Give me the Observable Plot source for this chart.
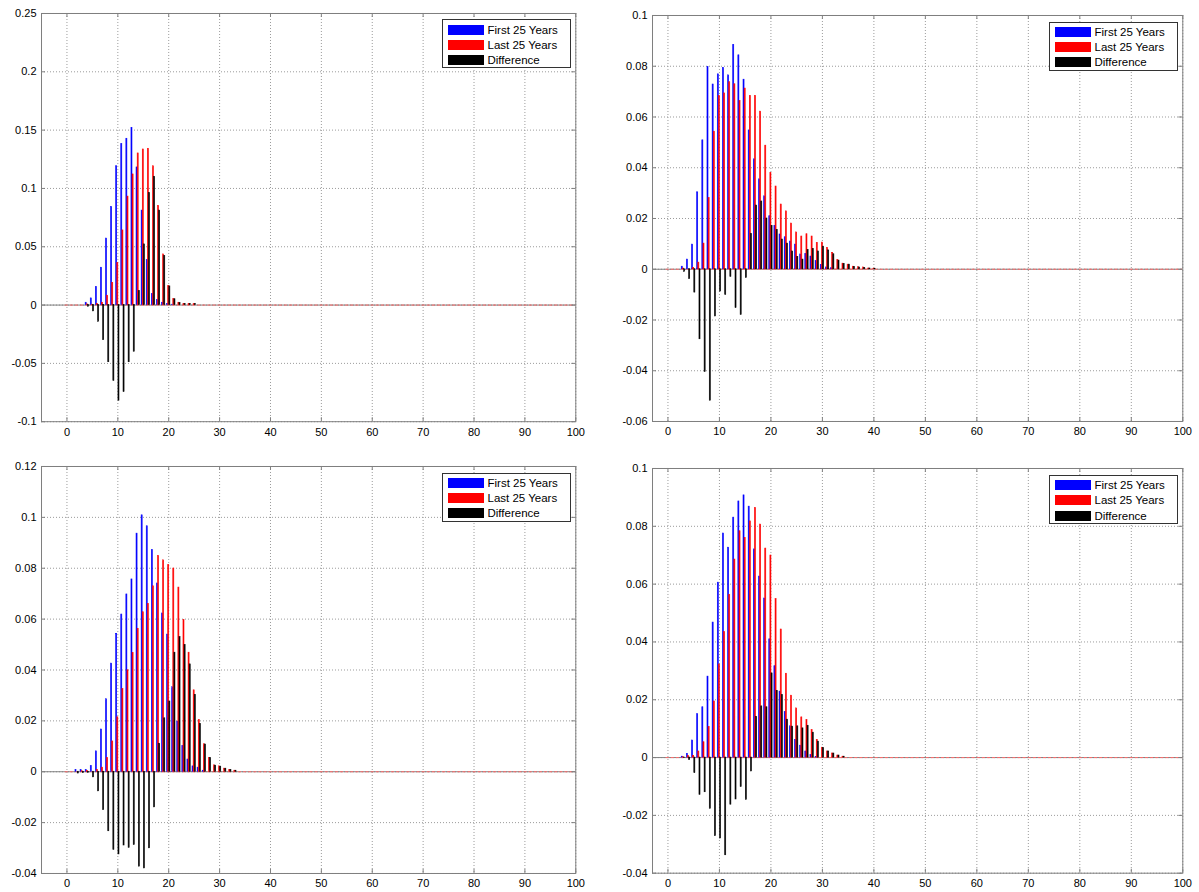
<!DOCTYPE html>
<html>
<head>
<meta charset="utf-8">
<script src="https://cdn.jsdelivr.net/npm/d3@7"></script>
<script src="https://cdn.jsdelivr.net/npm/@observablehq/plot@0.6"></script>
<style>
  html, body { margin: 0; padding: 0; background: #fff; }
  #root { position: relative; width: 1199px; height: 892px; overflow: hidden; font-family: "Liberation Sans", Arial, sans-serif; }
  .panel { position: absolute; }
  .legend { position: absolute; background: #fff; border: 1px solid #333; box-sizing: border-box; }
  .legend .row { position: absolute; left: 0; height: 12px; }
  .legend .sw { position: absolute; left: 5px; width: 36px; height: 10px; }
  .legend .lb { position: absolute; left: 45px; top: -2px; font-size: 11.5px; line-height: 14px; white-space: nowrap; color: #000; }
</style>
</head>
<body>
<div id="root"></div>
<script>
// ---------- data ----------
const seriesNames = ["First 25 Years", "Last 25 Years", "Difference"];
const seriesColors = ["#0000ff", "#ff0000", "#000000"];
const xTicks = [0, 10, 20, 30, 40, 50, 60, 70, 80, 90, 100];

// Panel 1 (top-left)
const p1X = [3,4,5,6,7,8,9,10,11,12,13,14,15,16,17,18,19,20,21,22,23,24,25];
const p1First = [0,0.002,0.0057,0.0154,0.032,0.057,0.084,0.119,0.138,0.1426,0.152,0.118,0.081,0.0386,0.0094,0.0043,0.002,0.001,0.0003,0,0,0,0];
const p1Last = [0,0.0006,0.0003,0.001,0.002,0.008,0.019,0.036,0.064,0.093,0.112,0.130,0.1334,0.134,0.119,0.085,0.0434,0.0163,0.0051,0.002,0.001,0.001,0.0008];
const p1Diff = [0,-0.0014,-0.0054,-0.0143,-0.030,-0.049,-0.065,-0.082,-0.0746,-0.049,-0.040,0.012,0.052,0.096,0.110,0.081,0.042,0.016,0.005,0.0017,0.001,0.001,0.0008];
const p1YTicks = [-0.1,-0.05,0,0.05,0.1,0.15,0.2,0.25];

// Panel 2 (top-right)
const p2X = [3,4,5,6,7,8,9,10,11,12,13,14,15,16,17,18,19,20,21,22,23,24,25,26,27,28,29,30,31,32,33,34,35,36,37,38,39,40];
const p2First = [0.001,0.0038,0.0097,0.0303,0.0508,0.0797,0.0728,0.0768,0.0793,0.0764,0.0884,0.0843,0.0747,0.0547,0.0433,0.0354,0.0287,0.0209,0.0171,0.0137,0.0126,0.0109,0.0097,0.0058,0.006,0.005,0.0032,0.0017,0.0007,0.0004,0,0,0,0,0,0,0,0];
const p2Last = [0.0003,0,0.0005,0.0026,0.0101,0.028,0.0542,0.0682,0.0693,0.0737,0.0729,0.0663,0.0712,0.0683,0.0683,0.0621,0.0487,0.038,0.0326,0.0255,0.0228,0.018,0.0145,0.0129,0.0138,0.0129,0.0104,0.0105,0.0084,0.0064,0.0036,0.0022,0.0018,0.001,0.0008,0.0007,0.0003,0.0002];
const p2Diff = [-0.001,-0.0038,-0.0092,-0.0276,-0.0405,-0.0518,-0.0186,-0.0088,-0.0101,-0.003,-0.0153,-0.018,-0.0034,0.0139,0.0251,0.0267,0.02,0.0171,0.0155,0.0117,0.0101,0.007,0.0049,0.0038,0.0076,0.008,0.007,0.0089,0.0074,0.0059,0.0034,0.0021,0.0018,0.0009,0.0007,0.0005,0.0003,0.0002];
const p2YTicks = [-0.06,-0.04,-0.02,0,0.02,0.04,0.06,0.08,0.1];

// Panel 3 (bottom-left)
const p3X = [2,3,4,5,6,7,8,9,10,11,12,13,14,15,16,17,18,19,20,21,22,23,24,25,26,27,28,29,30,31,32,33];
const p3First = [0.0007,0.0007,0.0007,0.0022,0.008,0.0166,0.0285,0.0425,0.0542,0.0618,0.0697,0.0756,0.0936,0.1008,0.0965,0.0871,0.074,0.0622,0.0539,0.0332,0.0197,0.0101,0.0048,0.0021,0.0016,0.0004,0,0,0,0,0,0];
const p3Last = [0,0.0002,0.0003,0,0.0007,0.0016,0.0054,0.0119,0.0214,0.0325,0.0399,0.0467,0.0562,0.0627,0.066,0.0729,0.0848,0.0831,0.0812,0.0799,0.0724,0.0597,0.0468,0.032,0.0203,0.0108,0.0054,0.0025,0.0021,0.0012,0.0007,0.0004];
const p3Diff = [-0.0007,-0.0005,-0.0004,-0.0022,-0.0077,-0.015,-0.0234,-0.0307,-0.0325,-0.029,-0.0299,-0.0288,-0.0373,-0.038,-0.0301,-0.014,0.011,0.021,0.0276,0.0468,0.0529,0.0498,0.0422,0.0302,0.0188,0.0107,0.0054,0.0024,0.002,0.0012,0.0007,0.0004];
const p3YTicks = [-0.04,-0.02,0,0.02,0.04,0.06,0.08,0.1,0.12];

// Panel 4 (bottom-right)
const p4X = [3,4,5,6,7,8,9,10,11,12,13,14,15,16,17,18,19,20,21,22,23,24,25,26,27,28,29,30,31,32,33,34];
const p4First = [0.0003,0.0013,0.0059,0.015,0.0174,0.028,0.0467,0.0605,0.0775,0.0726,0.083,0.0886,0.0907,0.0868,0.072,0.0626,0.055,0.0409,0.0316,0.0228,0.0157,0.0108,0.0061,0.0041,0.0021,0.0009,0.0002,0,0,0,0,0];
const p4Last = [0.0001,0.0005,0.0006,0.0021,0.0053,0.0106,0.0194,0.0322,0.0434,0.0562,0.0685,0.0783,0.076,0.0817,0.0863,0.0806,0.0723,0.0699,0.0548,0.0443,0.029,0.0214,0.017,0.0139,0.013,0.0095,0.0061,0.0034,0.0021,0.0014,0.0007,0.0003];
const p4Diff = [-0.0001,-0.0008,-0.0054,-0.0129,-0.012,-0.0177,-0.0272,-0.028,-0.0338,-0.0163,-0.0145,-0.0102,-0.0146,-0.0048,0.0141,0.0177,0.0174,0.0291,0.0231,0.0216,0.0131,0.0107,0.0108,0.0101,0.011,0.0086,0.0055,0.0033,0.0021,0.0014,0.0007,0.0003];
const p4YTicks = [-0.04,-0.02,0,0.02,0.04,0.06,0.08,0.1];

// ---------- layout ----------
const panels = [
  {box: {l: 40.7, r: 575, t: 12.5, b: 420.7}, xDomain: [-5, 100], yTicks: p1YTicks, x: p1X, s: [p1First, p1Last, p1Diff]},
  {box: {l: 651.7, r: 1182, t: 15, b: 421}, xDomain: [-3, 100], yTicks: p2YTicks, x: p2X, s: [p2First, p2Last, p2Diff]},
  {box: {l: 40.7, r: 575, t: 466, b: 873}, xDomain: [-5, 100], yTicks: p3YTicks, x: p3X, s: [p3First, p3Last, p3Diff]},
  {box: {l: 651.7, r: 1182, t: 468.3, b: 873}, xDomain: [-3, 100], yTicks: p4YTicks, x: p4X, s: [p4First, p4Last, p4Diff]}
];

const root = document.getElementById("root");
const offsets = [-0.222, 0, 0.222];
const hw = 0.1;
const fmt = d => String(+d.toFixed(4));

for (const p of panels) {
  const mL = 50, mT = 10, mR = 15, mB = 25;
  const iw = p.box.r - p.box.l, ih = p.box.b - p.box.t;
  const rows = [];
  p.s.forEach((vals, si) => vals.forEach((v, i) => rows.push({x: p.x[i], v, si})));
  const yDomain = [p.yTicks[0], p.yTicks[p.yTicks.length - 1]];
  const frameColor = "#7f7f7f";
  const svg = Plot.plot({
    width: iw + mL + mR,
    height: ih + mT + mB,
    marginLeft: mL, marginRight: mR, marginTop: mT, marginBottom: mB,
    style: {fontFamily: "'Liberation Sans', Arial, sans-serif", fontSize: "11px", background: "transparent", color: "#000", overflow: "visible"},
    x: {domain: p.xDomain, label: null},
    y: {domain: yDomain, label: null},
    marks: [
      Plot.ruleX(xTicks, {stroke: "#9a9a9a", strokeDasharray: "1,2"}),
      Plot.ruleY(p.yTicks, {stroke: "#9a9a9a", strokeDasharray: "1,2"}),
      Plot.ruleY([0], {stroke: "#808080", strokeWidth: 1}),
      Plot.ruleY([0], {x1: -0.35, x2: 100, stroke: "#ff6b6b", strokeDasharray: "3,2.1", strokeWidth: 1}),
      Plot.rectY(rows, {
        x1: d => d.x + offsets[d.si] - hw,
        x2: d => d.x + offsets[d.si] + hw,
        y: "v",
        fill: d => seriesColors[d.si],
        stroke: d => seriesColors[d.si],
        strokeWidth: 0.6
      }),
      Plot.frame({stroke: frameColor}),
      Plot.ruleX(xTicks, {stroke: frameColor, insetTop: ih - 4}),
      Plot.ruleX(xTicks, {stroke: frameColor, insetBottom: ih - 4}),
      Plot.ruleY(p.yTicks, {stroke: frameColor, insetRight: iw - 4}),
      Plot.ruleY(p.yTicks, {stroke: frameColor, insetLeft: iw - 4}),
      Plot.axisX(xTicks, {tickSize: 0, tickPadding: 6, tickFormat: d => String(d), label: null, fill: "#000"}),
      Plot.axisY(p.yTicks, {tickSize: 0, tickPadding: 5, tickFormat: fmt, label: null, fill: "#000"})
    ]
  });
  svg.classList.add("panel");
  svg.style.left = (p.box.l - mL) + "px";
  svg.style.top = (p.box.t - mT) + "px";
  root.appendChild(svg);

  // legend box (top-right inside axes)
  const lw = 129, lh = 49;
  const lg = document.createElement("div");
  lg.className = "legend";
  lg.style.left = (p.box.r - 4.5 - lw) + "px";
  lg.style.top = (p.box.t + 6.5) + "px";
  lg.style.width = lw + "px";
  lg.style.height = lh + "px";
  seriesNames.forEach((name, i) => {
    const row = document.createElement("div");
    row.className = "row";
    row.style.top = (4.5 + i * 15.2) + "px";
    const sw = document.createElement("div");
    sw.className = "sw";
    sw.style.background = seriesColors[i];
    const lb = document.createElement("div");
    lb.className = "lb";
    lb.textContent = name;
    row.appendChild(sw);
    row.appendChild(lb);
    lg.appendChild(row);
  });
  root.appendChild(lg);
}
</script>
</body>
</html>
